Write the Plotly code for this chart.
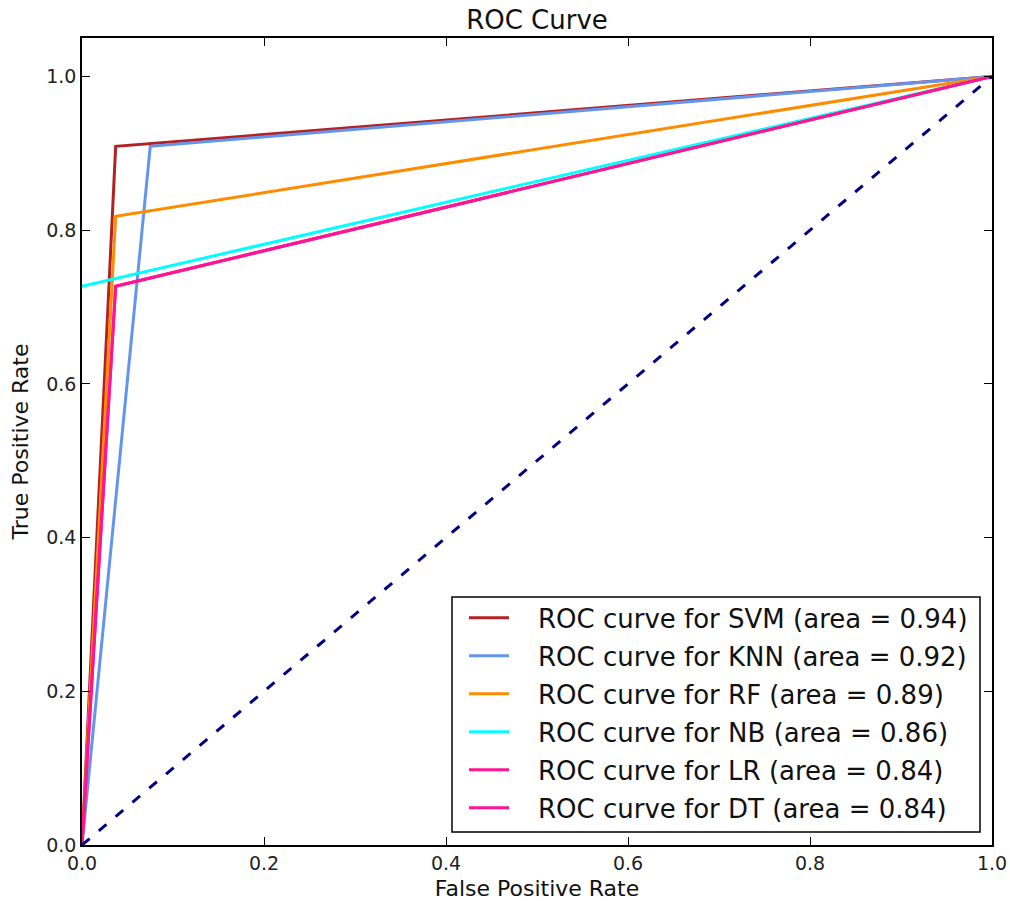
import plotly.graph_objects as go

# ---- data ----
models = ["SVM", "KNN", "RF", "NB", "LR", "DT"]
aucs = [0.94, 0.92, 0.89, 0.86, 0.84, 0.84]
fpr = {
    "SVM": [0.0, 0.037, 1.0],
    "KNN": [0.0, 0.075, 1.0],
    "RF":  [0.0, 0.037, 1.0],
    "NB":  [0.0, 1.0],
    "LR":  [0.0, 0.037, 1.0],
    "DT":  [0.0, 0.037, 1.0],
}
tpr = {
    "SVM": [0.0, 0.909, 1.0],
    "KNN": [0.0, 0.909, 1.0],
    "RF":  [0.0, 0.818, 1.0],
    "NB":  [0.727, 1.0],
    "LR":  [0.0, 0.727, 1.0],
    "DT":  [0.0, 0.727, 1.0],
}
colors = ["#B22222", "#6495ED", "#FF8C00", "#00FFFF", "#FF1493", "#FF1493"]
diag_x = [0.0, 1.0]
diag_y = [0.0, 1.0]
tick_vals = [0.0, 0.2, 0.4, 0.6, 0.8, 1.0]
tick_text = ["0.0", "0.2", "0.4", "0.6", "0.8", "1.0"]

FONT = "DejaVu Sans"
W, H = 1010, 901
ML, MR, MT, MB = 82, 18, 38, 56
PW, PH = W - ML - MR, H - MT - MB


def px_x(px):
    return (px - ML) / PW


def px_y(py):
    return (H - MB - py) / PH


fig = go.Figure()
labels = []
for i, (m, a, c) in enumerate(zip(models, aucs, colors)):
    lab = f"ROC curve for {m} (area = {a:.2f})"
    labels.append(lab)
    fig.add_trace(go.Scatter(
        x=fpr[m], y=tpr[m], mode="lines",
        line=dict(color=c, width=3),
        name=lab, showlegend=False,
    ))
fig.add_trace(go.Scatter(
    x=diag_x, y=diag_y, mode="lines",
    line=dict(color="#000080", width=3, dash="10px,12px"),
    showlegend=False,
))

# ---- legend box drawn in the style of the reference ----
shapes = [dict(type="rect", xref="paper", yref="paper",
               x0=px_x(452), x1=px_x(980), y0=px_y(832), y1=px_y(597),
               line=dict(color="black", width=1.5), fillcolor="white",
               layer="above")]
annotations = []
for i, (lab, c) in enumerate(zip(labels, colors)):
    yc = 617.7 + 38 * i
    shapes.append(dict(type="line", xref="paper", yref="paper",
                       x0=px_x(469), x1=px_x(509), y0=px_y(yc), y1=px_y(yc),
                       line=dict(color=c, width=3), layer="above"))
    annotations.append(dict(xref="paper", yref="paper", x=px_x(536), y=px_y(yc + 1),
                            xanchor="left", yanchor="middle", showarrow=False,
                            text=lab, font=dict(family=FONT, size=26, color="#111")))

axis_common = dict(
    showline=True, linecolor="black", linewidth=1.6, mirror="ticks",
    ticks="inside", ticklen=8, tickwidth=1, tickcolor="black",
    showgrid=False, zeroline=False, automargin=False,
    tickfont=dict(family=FONT, size=19, color="#222"),
    tickvals=tick_vals, ticktext=tick_text,
)

fig.update_layout(
    width=W, height=H,
    margin=dict(l=ML, r=MR, t=MT, b=MB),
    paper_bgcolor="white", plot_bgcolor="white",
    font=dict(family=FONT, color="#111"),
    title=dict(text="ROC Curve", x=0.5, xanchor="center", xref="paper",
               y=1 - 20 / H, yanchor="middle", yref="container",
               font=dict(family=FONT, size=26, color="#111")),
    xaxis=dict(range=[0, 1], title=dict(text="False Positive Rate",
               font=dict(family=FONT, size=22), standoff=9), **axis_common),
    yaxis=dict(range=[0, 1.05], title=dict(text="True Positive Rate",
               font=dict(family=FONT, size=22), standoff=11), **axis_common),
    shapes=shapes,
    annotations=annotations,
    showlegend=False,
)

fig.write_html("out.html")
